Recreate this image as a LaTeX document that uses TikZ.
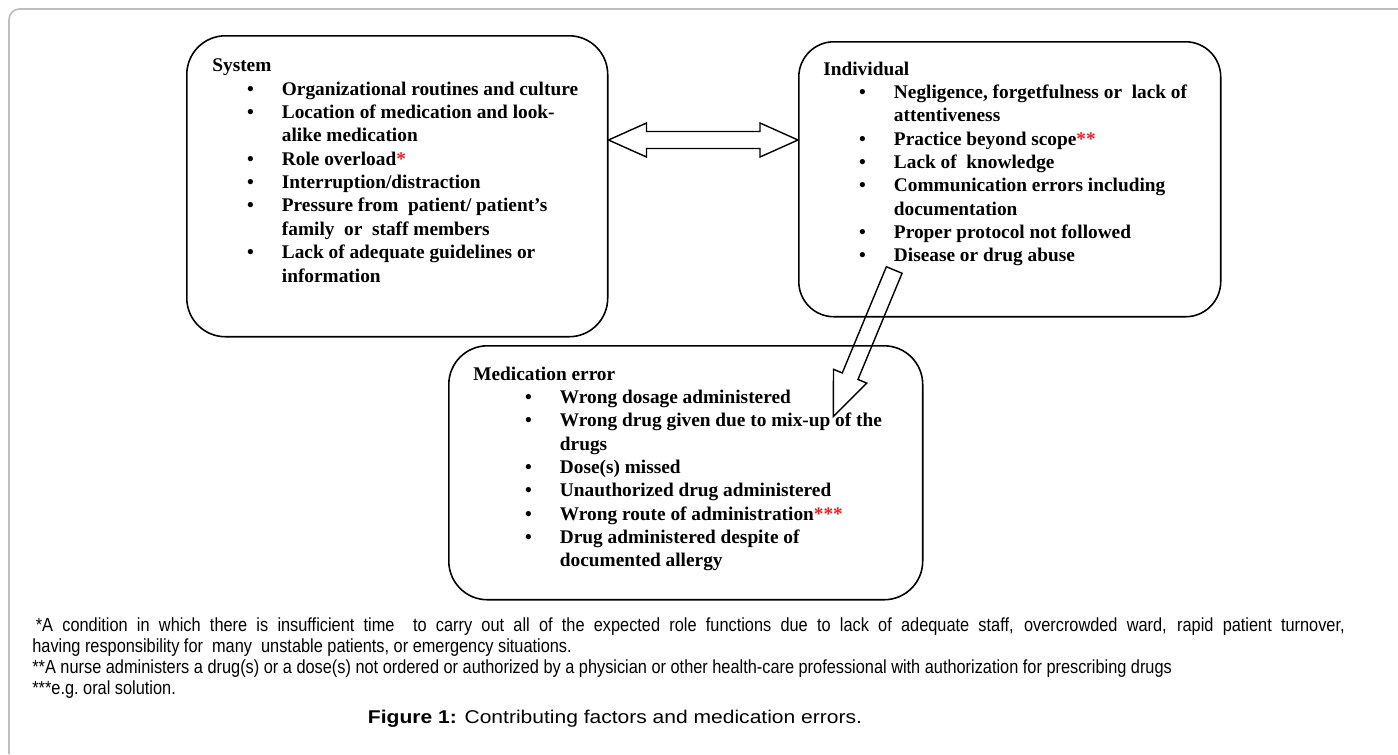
\documentclass[tikz,border=0pt]{standalone}
\usepackage{fontspec}
\setmainfont{Liberation Serif}
\newfontfamily\notefont[FakeStretch=0.861]{Liberation Sans}
\newfontfamily\capfont[FakeStretch=1.14]{Liberation Sans}
\usetikzlibrary{calc}
\definecolor{framegray}{RGB}{190,190,190}
\definecolor{starred}{RGB}{237,28,36}
\newcommand{\redstar}[1]{\textcolor{starred}{#1}}
\tikzset{
  factorbox/.style={draw, line width=0.9pt, anchor=north west, inner sep=0pt},
  factortext/.style={anchor=base west, inner sep=0pt, font=\fontsize{11}{13.3}\selectfont\bfseries},
  blockarrow/.style={line width=0.8pt, line join=miter},
  notetext/.style={anchor=base west, inner sep=0pt, align=left, font=\fontsize{10.8}{11.9}\selectfont\notefont}
}

\begin{document}
\begin{tikzpicture}[x=0.02cm, y=-0.02cm]
  \useasboundingbox (0,0) rectangle (1398,754);
  % page frame
  \draw[framegray, line width=1pt, rounded corners=6pt] (9,754) -- (9,9) -- (1398,9);

  % the three boxes
  \node[factorbox, rounded corners=22pt, minimum width=8.42cm, minimum height=6.02cm] (sys) at (186,35) {};
  \node[factorbox, rounded corners=20pt, minimum width=8.44cm, minimum height=5.5cm] (ind) at (798,41) {};
  \node[factorbox, rounded corners=22pt, minimum width=9.48cm, minimum height=5.08cm] (err) at (448,345) {};

  \node[factortext] (sysText) at ($(sys.north west)+(26,36.7)$) {%
    \begin{tabular}[t]{@{\hspace{19.8pt}}p{19.8pt}@{}l@{}}
      \multicolumn{2}{@{}l@{}}{System}\\
      \textbullet & Organizational routines and culture\\
      \textbullet & Location of medication and look-\\
                  & alike medication\\
      \textbullet & Role overload\redstar{*}\\
      \textbullet & Interruption/distraction\\
      \textbullet & Pressure from\ \ patient/ patient’s\\
                  & family\ \ or\ \ staff members\\
      \textbullet & Lack of adequate guidelines or\\
                  & information
    \end{tabular}};
  \node[factortext] (indText) at ($(ind.north west)+(25,34)$) {%
    \begin{tabular}[t]{@{\hspace{20.4pt}}p{19.8pt}@{}l@{}}
      \multicolumn{2}{@{}l@{}}{Individual}\\
      \textbullet & Negligence, forgetfulness or\ \ lack of\\
                  & attentiveness\\
      \textbullet & Practice beyond scope\redstar{**}\\
      \textbullet & Lack of\ \ knowledge\\
      \textbullet & Communication errors including\\
                  & documentation\\
      \textbullet & Proper protocol not followed\\
      \textbullet & Disease or drug abuse
    \end{tabular}};
  \node[factortext] (errText) at ($(err.north west)+(25,35)$) {%
    \begin{tabular}[t]{@{\hspace{29.5pt}}p{19.8pt}@{}l@{}}
      \multicolumn{2}{@{}l@{}}{Medication error}\\
      \textbullet & Wrong dosage administered\\
      \textbullet & Wrong drug given due to mix-up of the\\
                  & drugs\\
      \textbullet & Dose(s) missed\\
      \textbullet & Unauthorized drug administered\\
      \textbullet & Wrong route of administration\redstar{***}\\
      \textbullet & Drug administered despite of\\
                  & documented allergy
    \end{tabular}};

  % double arrow between system and individual
  \coordinate (dl) at (sys.east |- 0,140);
  \coordinate (dr) at (ind.west |- 0,140);
  \draw[blockarrow] (dl) -- ($(dl)+(38,-17)$) -- ($(dl)+(38,-8.5)$) -- ($(dr)+(-38,-8.5)$)
    -- ($(dr)+(-38,-17)$) -- (dr) -- ($(dr)+(-38,17)$) -- ($(dr)+(-38,8.5)$)
    -- ($(dl)+(38,8.5)$) -- ($(dl)+(38,17)$) -- cycle;

  % arrow from individual down to medication error
  \coordinate (arrTail) at (894.2,270);
  \begin{scope}[shift={(arrTail)}, rotate=247.45]
    \draw[blockarrow] (0,-8.5) -- (115,-8.5) -- (115,-18) -- (158.8,0) -- (115,18) -- (115,8.5) -- (0,8.5) -- cycle;
  \end{scope}

  % notes (node baseline = last line) and caption
  \node[notetext] (notes) at (32,694.3) {%
    \makebox[747pt][s]{\hspace*{2pt}*A condition in which there is insufficient time\ \ to carry out all of the expected role functions due to lack of adequate staff, overcrowded ward, rapid patient turnover,}\\
    having responsibility for\ \ many\ \ unstable patients, or emergency situations.\\
    **A nurse administers a drug(s) or a dose(s) not ordered or authorized by a physician or other health-care professional with authorization for prescribing drugs\\
    ***e.g.\ oral solution.};
  \node[anchor=base, inner sep=0pt, font=\fontsize{10.5}{12.5}\selectfont\capfont] (caption) at (615,723)
    {\textbf{Figure 1:} Contributing factors and medication errors.};
\end{tikzpicture}
\end{document}
